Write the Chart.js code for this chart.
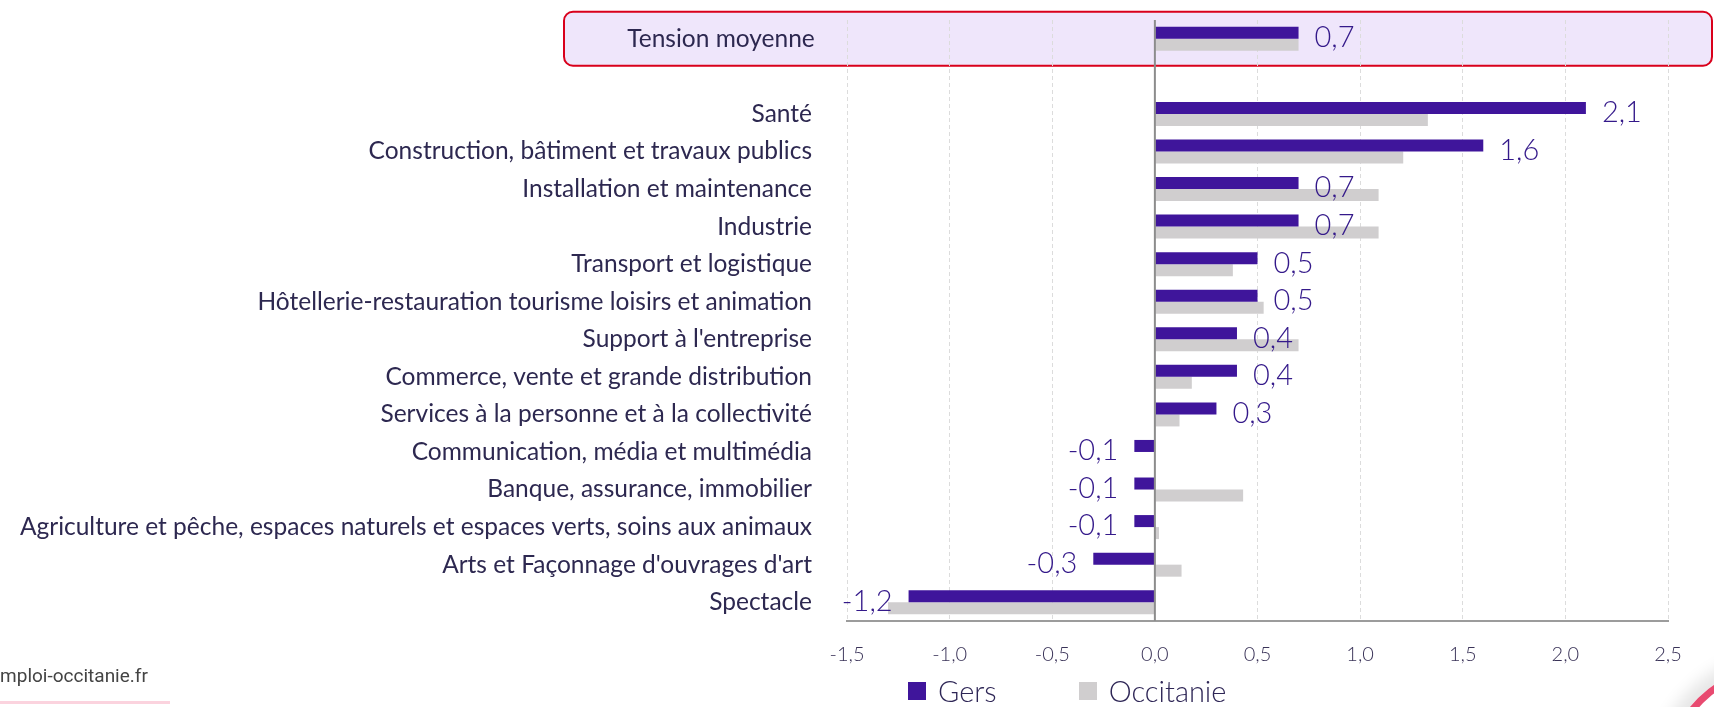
<!DOCTYPE html>
<html>
<head>
<meta charset="utf-8">
<script src="https://cdn.jsdelivr.net/npm/chart.js@4/dist/chart.umd.min.js"></script>
<style>
html, body { margin: 0; padding: 0; background: #fff; overflow: hidden; }
#wrap { position: relative; width: 1714px; height: 707px; overflow: hidden; }
#legend { position: absolute; left: 908px; top: 676px; display: flex; align-items: center;
  font: 300 29px Lato, sans-serif; color: #2e2656; line-height: 1; }
#legend .item { display: flex; align-items: center; margin-right: 82px; }
#legend .box { width: 18px; height: 18px; margin-right: 12px; }
#site { position: absolute; left: -10px; top: 664px; font: 400 19px Roboto, sans-serif; color: #444; }
#line { position: absolute; left: 0; top: 701px; width: 170px; height: 3px; background: #fbd3de; }
#ring { position: absolute; left: 1660px; top: 660px; width: 260px; height: 260px; box-sizing: border-box;
  border: 7px solid #e84a70; border-radius: 50%; box-shadow: -8px -8px 16px rgba(0,0,0,0.10); }
</style>
</head>
<body>
<div id="wrap">
  <canvas id="chart" width="1714" height="707"></canvas>
  <div id="legend"></div>
  <div id="site">emploi-occitanie.fr</div>
  <div id="line"></div>
  <div id="ring"></div>
</div>
<script>
// secteurs (ligne vide = séparation sous la tension moyenne)
const categories = [
  "Tension moyenne",
  "",
  "Santé",
  "Construction, bâtiment et travaux publics",
  "Installation et maintenance",
  "Industrie",
  "Transport et logistique",
  "Hôtellerie-restauration tourisme loisirs et animation",
  "Support à l'entreprise",
  "Commerce, vente et grande distribution",
  "Services à la personne et à la collectivité",
  "Communication, média et multimédia",
  "Banque, assurance, immobilier",
  "Agriculture et pêche, espaces naturels et espaces verts, soins aux animaux",
  "Arts et Façonnage d'ouvrages d'art",
  "Spectacle"
];
const gers      = [0.7, null, 2.1, 1.6, 0.7, 0.7, 0.5, 0.5, 0.4, 0.4, 0.3, -0.1, -0.1, -0.1, -0.3, -1.2];
const occitanie = [0.7, null, 1.33, 1.21, 1.09, 1.09, 0.38, 0.53, 0.70, 0.18, 0.12, 0, 0.43, 0.02, 0.13, -1.30];
const xMin = -1.5, xMax = 2.5, xStep = 0.5;

const purple = '#3f159b';
const grey = '#d0cecf';
const textCol = '#2d2850';
const fmt = v => v.toFixed(1).replace('.', ',');

const extras = {
  id: 'extras',
  beforeDraw(chart) {
    // cadre de la tension moyenne
    const ctx = chart.ctx, y = chart.scales.y.getPixelForValue(0);
    ctx.save();
    ctx.beginPath();
    ctx.roundRect(564, y - 27, 1148, 54, 9);
    ctx.fillStyle = '#efe6fb';
    ctx.fill();
    ctx.lineWidth = 2;
    ctx.strokeStyle = '#d9001b';
    ctx.stroke();
    ctx.restore();
  },
  afterDatasetsDraw(chart) {
    const ctx = chart.ctx, area = chart.chartArea;
    const x0 = chart.scales.x.getPixelForValue(0);
    ctx.save();
    ctx.strokeStyle = '#8c8c8c';
    ctx.lineWidth = 2;
    ctx.beginPath();
    ctx.moveTo(x0, area.top);
    ctx.lineTo(x0, area.bottom);
    ctx.stroke();

    ctx.font = '300 29px Lato, sans-serif';
    ctx.fillStyle = '#34198a';
    ctx.textBaseline = 'middle';
    chart.getDatasetMeta(0).data.forEach((bar, i) => {
      const v = gers[i];
      if (v === null) return;
      const y = chart.scales.y.getPixelForValue(i) - 1;
      ctx.textAlign = v >= 0 ? 'left' : 'right';
      ctx.fillText(fmt(v), v >= 0 ? bar.x + 16 : bar.x - 16, y);
    });
    ctx.restore();
  },
  afterDraw(chart) {
    const ctx = chart.ctx;
    ctx.save();
    ctx.font = '400 24.5px Lato, sans-serif';
    ctx.fillStyle = textCol;
    ctx.textAlign = 'center';
    ctx.textBaseline = 'middle';
    ctx.fillText(categories[0], chart.chartArea.left - 126, chart.scales.y.getPixelForValue(0));
    ctx.restore();
  }
};

const chart = new Chart(document.getElementById('chart'), {
  type: 'bar',
  data: {
    labels: categories,
    datasets: [
      { label: 'Gers', data: gers, backgroundColor: purple },
      { label: 'Occitanie', data: occitanie, backgroundColor: grey }
    ]
  },
  options: {
    indexAxis: 'y',
    responsive: false,
    animation: false,
    categoryPercentage: 0.64,
    barPercentage: 1,
    layout: { padding: { top: 20, right: 46, bottom: 0, left: 0 } },
    plugins: { legend: { display: false }, tooltip: { enabled: false } },
    scales: {
      x: {
        min: xMin, max: xMax,
        ticks: { stepSize: xStep, callback: v => fmt(v), color: '#3a3358',
          font: { family: 'Lato', size: 20, weight: 300 }, padding: 22 },
        grid: { color: '#dcdcdc', drawTicks: false },
        border: { display: true, color: '#9c9c9c', width: 2, dash: [4, 3] },
        afterFit: s => { s.height = 86; }
      },
      y: {
        ticks: { autoSkip: false, callback: (v, i) => i === 0 ? '' : categories[i], color: textCol,
          font: { family: 'Lato', size: 24.5, weight: 400 }, padding: 2 },
        grid: { display: false, drawTicks: true, tickLength: 33 },
        border: { display: false },
        afterFit: s => { s.width = 847; }
      }
    }
  },
  plugins: [extras]
});

// légende
const legend = document.getElementById('legend');
chart.data.datasets.forEach(ds => {
  const item = document.createElement('div');
  item.className = 'item';
  item.innerHTML = '<span class="box" style="background:' + ds.backgroundColor + '"></span><span>' + ds.label + '</span>';
  legend.appendChild(item);
});
</script>
</body>
</html>
